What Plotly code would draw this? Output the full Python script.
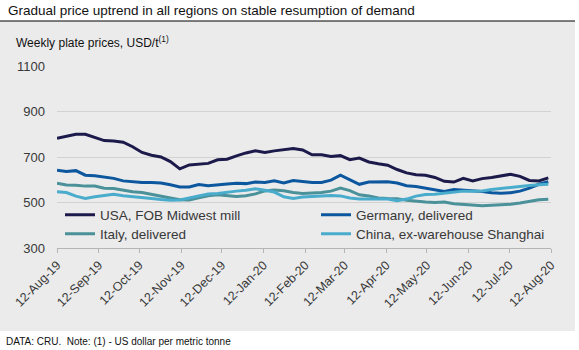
import plotly.graph_objects as go
import pandas as pd

dates = pd.date_range("2019-08-12", periods=53, freq="7D")

usa = [782, 790, 800, 800, 785, 772, 770, 765, 745, 720, 708, 700, 680, 648, 665, 670, 672, 688,
       690, 705, 718, 727, 720, 727, 731, 737, 731, 710, 710, 702, 706, 688, 695, 678, 670, 664,
       645, 630, 622, 620, 610, 593, 590, 606, 595, 605, 610, 618, 624, 615, 597, 595, 608]
germany = [642, 636, 640, 620, 618, 612, 606, 595, 590, 588, 588, 586, 578, 568, 568, 579, 574, 576,
           581, 585, 583, 590, 588, 595, 586, 597, 592, 588, 588, 598, 620, 600, 580, 590, 590, 591,
           586, 574, 570, 562, 555, 548, 557, 555, 551, 548, 543, 541, 543, 550, 563, 580, 591]
italy = [585, 577, 576, 572, 572, 563, 562, 553, 547, 544, 537, 530, 520, 512, 511, 521, 530, 534,
         529, 526, 530, 538, 551, 555, 552, 544, 540, 541, 544, 550, 563, 552, 534, 529, 520, 518,
         517, 510, 505, 502, 500, 502, 495, 492, 488, 486, 488, 490, 492, 498, 506, 512, 514]
china = [547, 544, 528, 518, 525, 531, 536, 530, 527, 524, 518, 513, 510, 511, 519, 530, 537, 540,
         546, 550, 554, 560, 554, 546, 525, 518, 524, 526, 530, 531, 529, 520, 515, 515, 515, 515,
         508, 515, 528, 535, 536, 540, 547, 550, 549, 551, 557, 562, 568, 572, 575, 578, 580]

series_names = ["USA, FOB Midwest mill", "Germany, delivered", "Italy, delivered",
                "China, ex-warehouse Shanghai"]
series_values = [usa, germany, italy, china]
colors = ["#1c1a4a", "#0c579e", "#4a9199", "#4aaccc"]

tick_dates = pd.date_range("2019-08-12", periods=13, freq=pd.DateOffset(months=1))
y_ticks = [300, 500, 700, 900, 1100]

title_text = "Gradual price uptrend in all regions on stable resumption of demand"
subtitle_text = "Weekly plate prices, USD/t<sup>(1)</sup>"
footer_text = "DATA: CRU.  Note: (1) - US dollar per metric tonne"

FONT = "Liberation Sans, Arial, sans-serif"
BG = "#ebebeb"

L, R, T, B = 57, 28, 66, 102
W, H = 579, 350
pw, ph = W - L - R, H - T - B

def px_x(p):
    return (p - L) / pw

def px_y(p):
    return (H - B - p) / ph

# legend slot positions (px) for the 2x2 legend grid
legend_pos = [(60, 215), (316, 215), (60, 234), (316, 234)]
legend_ids = ["legend", "legend2", "legend3", "legend4"]

fig = go.Figure()
for name, vals, col, lid in zip(series_names, series_values, colors, legend_ids):
    fig.add_trace(go.Scatter(x=dates, y=vals, mode="lines", name=name, legend=lid,
                             line=dict(color=col, width=3)))

legend_layout = {}
for lid, (lx, ly) in zip(legend_ids, legend_pos):
    legend_layout[lid] = dict(orientation="v", x=px_x(lx), y=px_y(ly),
                              xanchor="left", yanchor="middle",
                              bgcolor="rgba(0,0,0,0)",
                              font=dict(size=13.5, color="#383838", family=FONT),
                              itemwidth=30)

fig.update_layout(
    width=W, height=H,
    margin=dict(l=L, r=R, t=T, b=B),
    paper_bgcolor="white",
    plot_bgcolor=BG,
    font=dict(family=FONT, color="#333333", size=11),
    showlegend=True,
    xaxis=dict(type="date", range=[dates[0], tick_dates[-1]], tickvals=tick_dates,
               tickformat="%d-%b-%y", tickangle=-45, showgrid=False,
               showline=True, linecolor="#b5b5b5", linewidth=1,
               ticks="outside", ticklen=4, tickcolor="#b5b5b5",
               tickfont=dict(size=12.5, color="#383838"), zeroline=False),
    yaxis=dict(range=[300, 1100], tickvals=y_ticks, showgrid=True, gridcolor="#d2d2d2",
               gridwidth=1, zeroline=False, showline=False, ticks="",
               ticklabelstandoff=11,
               tickfont=dict(size=13, color="#383838")),
    shapes=[
        dict(type="rect", xref="paper", yref="paper", x0=px_x(0), x1=px_x(575),
             y0=px_y(331), y1=px_y(21), fillcolor=BG, line=dict(width=0), layer="below"),
        dict(type="line", xref="paper", yref="paper", x0=px_x(0), x1=px_x(575),
             y0=px_y(21), y1=px_y(21), line=dict(color="black", width=1)),
    ],
    annotations=[
        dict(text=title_text, xref="paper", yref="paper", x=px_x(6), y=px_y(11),
             xanchor="left", yanchor="middle", showarrow=False,
             font=dict(size=13.5, color="#111111", family=FONT)),
        dict(text=subtitle_text, xref="paper", yref="paper", x=px_x(14), y=px_y(42),
             xanchor="left", yanchor="middle", showarrow=False,
             font=dict(size=12, color="#111111", family=FONT)),
        dict(text=footer_text, xref="paper", yref="paper", x=px_x(4), y=px_y(341),
             xanchor="left", yanchor="middle", showarrow=False,
             font=dict(size=10, color="#111111", family=FONT)),
    ],
    **legend_layout,
)

fig.write_html("out.html")
